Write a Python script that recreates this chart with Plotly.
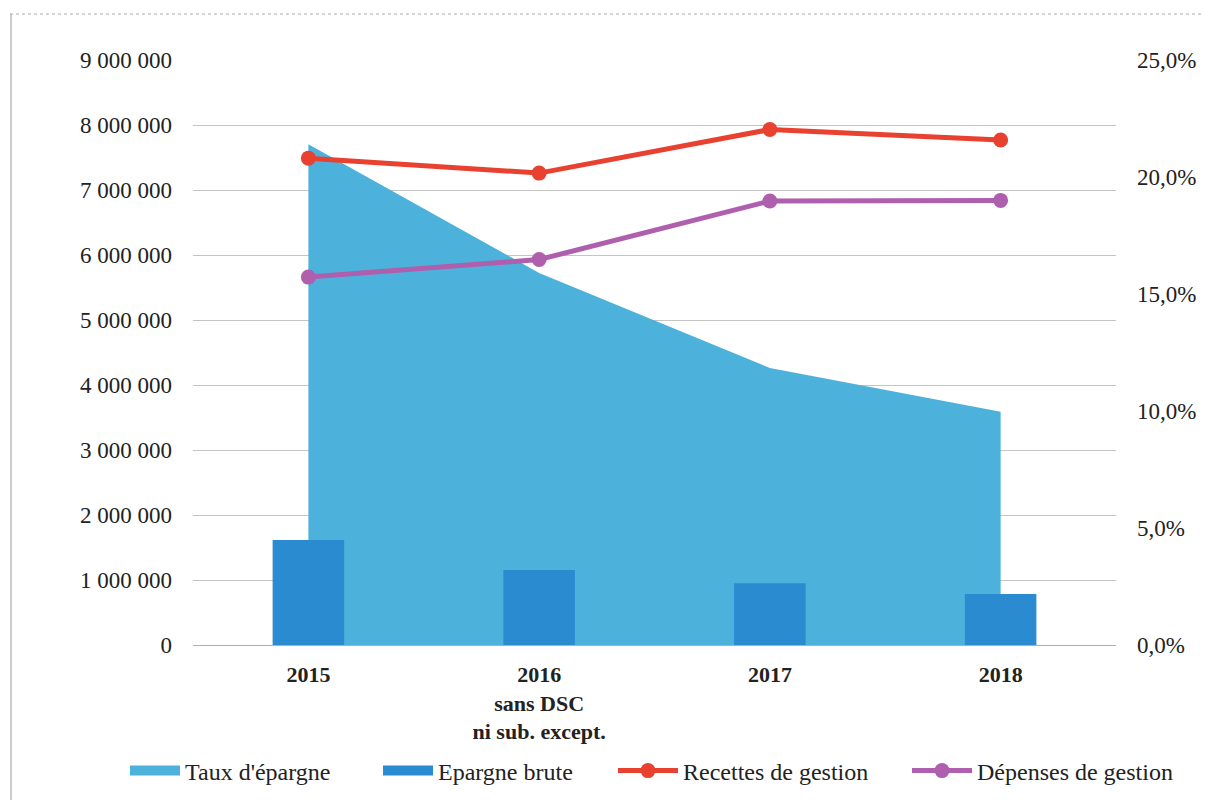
import plotly.graph_objects as go

categories = ["2015", "2016<br>sans DSC<br>ni sub. except.", "2017", "2018"]
taux_epargne = [0.214, 0.159, 0.1184, 0.0997]
epargne_brute = [1615000, 1154000, 950000, 785000]
recettes_gestion = [7490000, 7260000, 7930000, 7770000]
depenses_gestion = [5660000, 5930000, 6830000, 6840000]

left_ticks = [0, 1000000, 2000000, 3000000, 4000000, 5000000, 6000000, 7000000, 8000000, 9000000]
right_ticks = [0, 0.05, 0.10, 0.15, 0.20, 0.25]

FONT = "Liberation Serif"
C_AREA = "#4DB2DB"
C_BAR = "#2A8BD0"
C_RED = "#E8412F"
C_PURPLE = "#AE5FAD"
TXT = "#222222"

fig = go.Figure()
# data traces
fig.add_trace(go.Scatter(
    x=categories, y=taux_epargne, name="Taux d'épargne", mode="lines",
    fill="tozeroy", fillcolor=C_AREA, line=dict(color=C_AREA, width=0),
    yaxis="y", showlegend=False, legendgroup="taux"))
fig.add_trace(go.Bar(
    x=categories, y=epargne_brute, name="Epargne brute", marker_color=C_BAR,
    marker_line_width=0, width=0.31, yaxis="y2", showlegend=False, legendgroup="epargne"))
fig.add_trace(go.Scatter(
    x=categories, y=recettes_gestion, name="Recettes de gestion", mode="lines+markers",
    line=dict(color=C_RED, width=5), marker=dict(size=15, color=C_RED), yaxis="y2",
    legend="legend3"))
fig.add_trace(go.Scatter(
    x=categories, y=depenses_gestion, name="Dépenses de gestion", mode="lines+markers",
    line=dict(color=C_PURPLE, width=5), marker=dict(size=15, color=C_PURPLE), yaxis="y2",
    legend="legend4"))
# legend swatches (rectangles) for area and bars
fig.add_trace(go.Scatter(
    x=[None], y=[None], name="Taux d'épargne", mode="lines", yaxis="y2",
    line=dict(color=C_AREA, width=13), legendgroup="taux", legend="legend"))
fig.add_trace(go.Scatter(
    x=[None], y=[None], name="Epargne brute", mode="lines", yaxis="y2",
    line=dict(color=C_BAR, width=13), legendgroup="epargne", legend="legend2"))

L, R, T, B = 193, 89, 60, 155
W, H = 1205, 800
pw, ph = W - L - R, H - T - B

def px_x(p):
    return (p - L) / pw

def px_y(p):
    return (H - B - p) / ph

def leg(xpix, iw):
    return dict(
        orientation="h", xref="container", yref="container",
        x=xpix / W, xanchor="left", y=1 - 771 / H, yanchor="middle",
        font=dict(family=FONT, size=24, color=TXT), itemwidth=iw,
        bgcolor="rgba(0,0,0,0)",
    )

fig.update_layout(
    width=W, height=H,
    margin=dict(l=L, r=R, t=T, b=B, autoexpand=False),
    paper_bgcolor="white", plot_bgcolor="white",
    separators=", ",
    font=dict(family=FONT, size=23, color=TXT),
    showlegend=True,
    xaxis=dict(
        type="category", range=[-0.5, 3.5], showgrid=False, showline=False,
        ticks="", tickfont=dict(family=FONT, size=22, color=TXT, weight="bold"),
        ticklabelstandoff=14,
    ),
    yaxis=dict(
        side="right", range=[0, 0.25], tickvals=right_ticks, tickformat=".1%",
        showgrid=False, zeroline=False, showline=False, ticks="",
        ticklabelstandoff=20, tickfont=dict(family=FONT, size=23, color=TXT),
    ),
    yaxis2=dict(
        side="left", overlaying="y", range=[0, 9000000], tickvals=left_ticks,
        tickformat=",.0f", showgrid=True, gridcolor="#C4C4C4", gridwidth=1,
        zeroline=True, zerolinecolor="#B0B0B0", zerolinewidth=1, showline=False, ticks="",
        ticklabelstandoff=20, tickfont=dict(family=FONT, size=23, color=TXT),
    ),
    legend=leg(125, 50),
    legend2=leg(378, 50),
    legend3=leg(613, 60),
    legend4=leg(907, 60),
    shapes=[
        dict(type="line", xref="paper", yref="paper", x0=px_x(10), x1=px_x(1203),
             y0=px_y(14), y1=px_y(14), line=dict(color="#AAAAAA", width=1, dash="dot")),
        dict(type="line", xref="paper", yref="paper", x0=px_x(11), x1=px_x(11),
             y0=px_y(14), y1=px_y(800), line=dict(color="#999999", width=1)),
    ],
)

fig.write_html("out.html")
